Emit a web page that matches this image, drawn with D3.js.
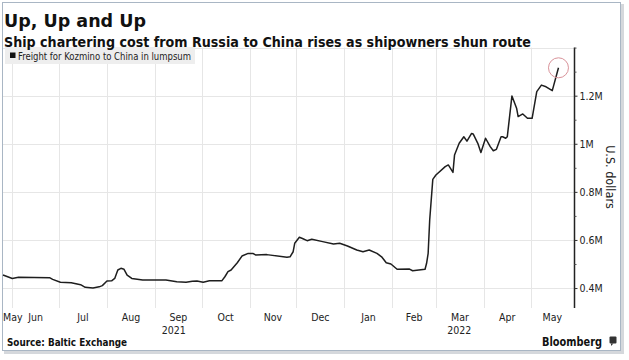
<!DOCTYPE html>
<html><head><meta charset="utf-8">
<script src="https://cdn.jsdelivr.net/npm/d3@7"></script>
<style>
html,body{margin:0;padding:0;background:#fff;}
svg{display:block;}
</style></head>
<body>
<svg id="chart" width="629" height="360"></svg>
<script>
// ---- data (freight, million USD) ----
const dates = [
"2021-05-26","2021-06-01","2021-06-05","2021-06-25","2021-06-27","2021-07-02","2021-07-09","2021-07-15","2021-07-18","2021-07-23",
"2021-07-27","2021-07-29","2021-08-01","2021-08-04","2021-08-06","2021-08-08","2021-08-10","2021-08-12","2021-08-14","2021-08-17",
"2021-08-24","2021-09-04","2021-09-08","2021-09-11","2021-09-15","2021-09-21","2021-09-25","2021-09-28","2021-10-02","2021-10-06",
"2021-10-14","2021-10-16","2021-10-18","2021-10-20","2021-10-24","2021-10-27","2021-10-31","2021-11-03","2021-11-05","2021-11-12",
"2021-11-25","2021-11-27","2021-11-29","2021-11-30","2021-12-03","2021-12-05","2021-12-08","2021-12-11","2021-12-18","2021-12-25",
"2021-12-29","2022-01-03","2022-01-09","2022-01-13","2022-01-17","2022-01-22","2022-01-25","2022-01-28","2022-01-31","2022-02-04",
"2022-02-12","2022-02-14","2022-02-22","2022-02-23","2022-02-24","2022-02-25","2022-02-27","2022-03-01","2022-03-07","2022-03-09",
"2022-03-12","2022-03-13","2022-03-16","2022-03-19","2022-03-21","2022-03-24","2022-03-25","2022-03-28","2022-03-30","2022-04-02",
"2022-04-05","2022-04-07","2022-04-09","2022-04-12","2022-04-13","2022-04-15","2022-04-16","2022-04-19","2022-04-22","2022-04-23",
"2022-04-26","2022-04-29","2022-05-02","2022-05-05","2022-05-08","2022-05-11","2022-05-15","2022-05-19"
];
const freight = [
0.454,0.440,0.445,0.443,0.436,0.424,0.422,0.414,0.403,0.400,
0.405,0.410,0.429,0.430,0.440,0.475,0.482,0.478,0.454,0.440,
0.433,0.433,0.433,0.430,0.426,0.424,0.428,0.429,0.424,0.430,
0.430,0.447,0.468,0.475,0.505,0.533,0.544,0.544,0.537,0.539,
0.528,0.530,0.551,0.586,0.611,0.606,0.597,0.603,0.593,0.583,
0.586,0.575,0.558,0.551,0.558,0.544,0.530,0.505,0.500,0.478,
0.479,0.472,0.478,0.503,0.544,0.683,0.852,0.870,0.905,0.912,
0.881,0.953,1.002,1.029,1.011,1.043,1.041,1.002,0.964,1.023,
0.988,0.971,0.977,1.029,1.029,1.023,1.029,1.199,1.148,1.113,
1.124,1.106,1.106,1.217,1.244,1.237,1.221,1.316
];
const yTicks = [0.4, 0.6, 0.8, 1.0, 1.2];
const yTickLabels = ["0.4M", "0.6M", "0.8M", "1M", "1.2M"];
const yMinorTicks = [0.5, 0.7, 0.9, 1.1, 1.3, 1.4];
const monthLabels = ["May","Jun","Jul","Aug","Sep","Oct","Nov","Dec","Jan","Feb","Mar","Apr","May"];
const yearLabels = ["2021", "2022"];
const title = "Up, Up and Up";
const subtitle = "Ship chartering cost from Russia to China rises as shipowners shun route";
const legendLabel = "Freight for Kozmino to China in lumpsum";
const axisTitle = "U.S. dollars";
const source = "Source: Baltic Exchange";

const parse = d3.timeParse("%Y-%m-%d");
const data = dates.map((d, i) => ({date: parse(d), v: freight[i]}));

const svg = d3.select("#chart");
const COND = "'DejaVu Sans Condensed', 'DejaVu Sans', sans-serif";

// frame with shadow
svg.append("rect").attr("x", 4).attr("y", 4).attr("width", 620).attr("height", 350)
  .attr("fill", "#d5d8dc");
svg.append("rect").attr("x", 2.5).attr("y", 2.5).attr("width", 618).attr("height", 348)
  .attr("fill", "#fff").attr("stroke", "#a9b6c4").attr("stroke-width", 1);

const x0 = new Date(2021, 4, 26), x1 = new Date(2022, 4, 29);
const x = d3.scaleTime().domain([x0, x1]).range([3, 574]);
const y = d3.scaleLinear().domain([0.317, 1.4]).range([308, 47.6]);

// horizontal grid
svg.append("g").selectAll("line").data(yTicks.concat([1.4])).join("line")
  .attr("x1", 3).attr("x2", 574)
  .attr("y1", d => Math.round(y(d)) + 0.5).attr("y2", d => Math.round(y(d)) + 0.5)
  .attr("stroke", "#e6e6e6").attr("stroke-width", 1);

// vertical grid at month starts
const monthStarts = d3.timeMonth.range(d3.timeMonth.ceil(x0), x1);
svg.append("g").selectAll("line").data(monthStarts).join("line")
  .attr("x1", d => Math.round(x(d)) + 0.5).attr("x2", d => Math.round(x(d)) + 0.5)
  .attr("y1", y(1.4)).attr("y2", 308)
  .attr("stroke", "#e6e6e6").attr("stroke-width", 1);

// legend
svg.append("rect").attr("x", 5).attr("y", 47).attr("width", 190).attr("height", 17).attr("fill", "#eeeeee");
svg.append("rect").attr("x", 10).attr("y", 52.5).attr("width", 5.5).attr("height", 5.5).attr("fill", "#111");
svg.append("text").attr("x", 18).attr("y", 59.5).attr("font-family", COND).attr("font-size", 10)
  .attr("fill", "#222").attr("textLength", 173).attr("lengthAdjust", "spacingAndGlyphs").text(legendLabel);

// line
svg.append("path").datum(data)
  .attr("d", d3.line().x(d => x(d.date)).y(d => y(d.v)))
  .attr("fill", "none").attr("stroke", "#1e1e1e").attr("stroke-width", 1.5).attr("stroke-linejoin", "round");

// red circle at last point
const last = data[data.length - 1];
svg.append("circle").attr("cx", x(last.date)).attr("cy", y(last.v)).attr("r", 10)
  .attr("fill", "none").attr("stroke", "#d9939a").attr("stroke-width", 1);

// right axis
const yAxis = d3.axisRight(y).tickValues(yTicks).tickFormat((d, i) => yTickLabels[i]).tickSize(3).tickPadding(2);
const gA = svg.append("g").attr("transform", "translate(574.5,0)").call(yAxis);
gA.select(".domain").attr("d", `M0,${y(1.4)}V308`).attr("stroke", "#222").attr("stroke-width", 1.5);
gA.selectAll(".tick line").attr("stroke", "#333");
gA.selectAll(".tick text").attr("font-family", COND).attr("font-size", 10.5).attr("fill", "#222");
const gM = svg.append("g").attr("transform", "translate(574.5,0)")
  .call(d3.axisRight(y).tickValues(yMinorTicks).tickFormat("").tickSize(2));
gM.select(".domain").remove();
gM.selectAll(".tick line").attr("stroke", "#555");

// axis title
svg.append("text").attr("transform", "translate(606,177) rotate(90)").attr("text-anchor", "middle")
  .attr("font-family", COND).attr("font-size", 12.5).attr("fill", "#222").text(axisTitle);

// month labels
const months = d3.timeMonth.range(d3.timeMonth.floor(x0), x1);
svg.append("g").selectAll("text").data(months).join("text")
  .attr("x", (d, i) => {
    const a = Math.max(x(d), x(x0)), b = Math.min(x(d3.timeMonth.offset(d, 1)), x(x1));
    return i === 0 ? 3 : (a + b) / 2;
  })
  .attr("text-anchor", (d, i) => i === 0 ? "start" : "middle")
  .attr("y", 321).attr("font-family", COND).attr("font-size", 10.5).attr("fill", "#222")
  .text((d, i) => monthLabels[i]);

// year labels centred on the visible part of each year
const years = [new Date(2021, 0, 1), new Date(2022, 0, 1)];
svg.append("g").selectAll("text").data(years).join("text")
  .attr("x", d => (x(d3.max([d, x0])) + x(d3.min([d3.timeYear.offset(d, 1), x1]))) / 2)
  .attr("y", 333.5).attr("text-anchor", "middle").attr("font-family", COND).attr("font-size", 10.5).attr("fill", "#222")
  .text((d, i) => yearLabels[i]);

// titles
svg.append("text").attr("x", 4).attr("y", 27).attr("font-family", "'DejaVu Sans', sans-serif")
  .attr("font-weight", "bold").attr("font-size", 18).attr("fill", "#111")
  .attr("textLength", 142).attr("lengthAdjust", "spacingAndGlyphs").text(title);
svg.append("text").attr("x", 4).attr("y", 46.5).attr("font-family", COND)
  .attr("font-weight", "bold").attr("font-size", 13.5).attr("fill", "#111")
  .attr("textLength", 527).attr("lengthAdjust", "spacingAndGlyphs").text(subtitle);

// source & brand
svg.append("text").attr("x", 7).attr("y", 346).attr("font-family", COND)
  .attr("font-weight", "bold").attr("font-size", 10).attr("fill", "#111")
  .attr("textLength", 120).attr("lengthAdjust", "spacingAndGlyphs").text(source);
svg.append("text").attr("x", 542).attr("y", 345.5).attr("font-family", "'DejaVu Sans', sans-serif")
  .attr("font-weight", "bold").attr("font-size", 12).attr("fill", "#111")
  .attr("textLength", 60).attr("lengthAdjust", "spacingAndGlyphs").text("Bloomberg");
svg.append("rect").attr("x", 609.5).attr("y", 336.5).attr("width", 7).attr("height", 7).attr("rx", 1).attr("fill", "#333");
svg.append("path").attr("d", "M611,343.5 L611,346 L613.5,343.5 Z").attr("fill", "#333");
</script>
</body></html>
